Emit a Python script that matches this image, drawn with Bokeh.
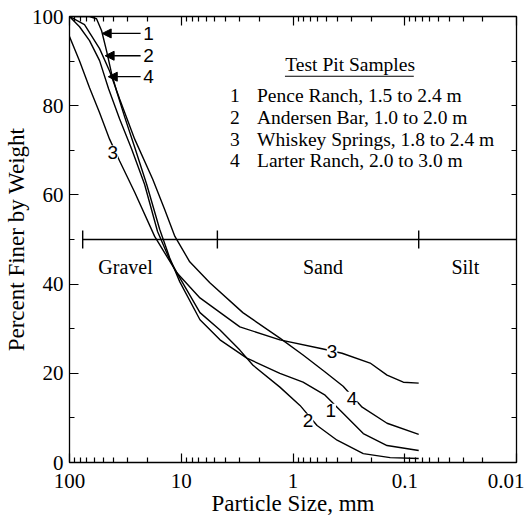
from bokeh.plotting import figure
from bokeh.models import (Range1d, FixedTicker, LinearAxis, LogAxis, Label,
                          Arrow, NormalHead)
from bokeh.embed import file_html
from bokeh.resources import INLINE

# ---------------- data ----------------
# particle size (mm) and percent finer by weight for each test pit sample
size_1 = [100, 66.2, 57.3, 51.6, 46.6, 42.0, 37.9, 32.1, 26.1, 20.4, 15.6, 12.7,
          10.3, 6.8, 4.5, 2.59, 1.31, 0.813, 0.516, 0.379, 0.235, 0.144, 0.075]
pct_1 = [100, 100, 99.5, 96.8, 92.3, 87.2, 83.3, 77.5, 70.7, 62.4, 52.3, 45.9,
         40.5, 32.0, 27.5, 23.4, 20.0, 18.0, 15.1, 11.7, 6.5, 3.8, 2.7]

size_2 = [100, 81.3, 66.2, 53.8, 44.7, 35.6, 27.8, 21.3, 16.3, 12.7, 10.3, 6.8,
          4.5, 2.99, 2.28, 1.31, 0.866, 0.609, 0.403, 0.235, 0.135, 0.075]
pct_2 = [100, 97.7, 94.6, 90.1, 83.8, 77.0, 70.3, 62.4, 51.8, 45.5, 41.4, 33.6,
         29.7, 25.2, 21.8, 16.9, 12.8, 8.3, 5.0, 2.0, 1.1, 0.9]

size_3 = [100, 81.3, 66.2, 53.8, 43.8, 35.6, 26.1, 17.3, 11.0, 6.8, 2.99, 1.31,
          0.55, 0.364, 0.204, 0.144, 0.103, 0.075]
pct_3 = [95.5, 90.0, 84.0, 78.4, 72.5, 67.6, 60.6, 50.7, 42.6, 36.9, 30.4, 27.5,
         25.5, 24.5, 22.3, 19.6, 18.0, 17.8]

size_4 = [100, 73.4, 53.8, 43.8, 35.6, 26.1, 18.0, 14.1, 11.4, 8.4, 5.55, 2.81,
          1.31, 0.813, 0.516, 0.356, 0.2405, 0.144, 0.075]
pct_4 = [100, 98.2, 92.8, 87.8, 81.5, 72.5, 63.5, 56.8, 50.7, 45.0, 40.3, 33.6,
         27.9, 24.1, 20.3, 17.1, 12.4, 8.8, 6.3]

sample_ids = ["1", "2", "3", "4"]
sample_names = ["Pence Ranch, 1.5 to 2.4 m", "Andersen Bar, 1.0 to 2.0 m",
                "Whiskey Springs, 1.8 to 2.4 m", "Larter Ranch, 2.0 to 3.0 m"]

# soil class boundaries (mm) and the level of the class bar (%)
boundary_mm = [76.2, 4.75, 0.075]
boundary_pct = 50
soil_classes = ["Gravel", "Sand", "Silt"]
soil_class_x = [31.5, 0.54, 0.0287]

x_major = [100, 10, 1, 0.1, 0.01]
x_major_labels = ["100", "10", "1", "0.1", "0.01"]
x_minor = [m * d for d in [10, 1, 0.1, 0.01] for m in range(2, 10)]
y_major = [0, 20, 40, 60, 80, 100]
y_minor = [10, 30, 50, 70, 90]

SERIF = "Liberation Serif"
SANS = "Liberation Sans"

p = figure(width=524, height=522, x_axis_type="log",
           x_range=Range1d(100, 0.01), y_range=Range1d(0, 100),
           output_backend="svg", toolbar_location=None,
           min_border_left=69, min_border_right=8, min_border_top=16,
           min_border_bottom=60)
p.xgrid.visible = False
p.ygrid.visible = False
p.outline_line_color = "black"
p.outline_line_width = 1.3
p.background_fill_color = "white"
p.border_fill_color = "white"

xtick = FixedTicker(ticks=x_major, minor_ticks=x_minor)
ytick = FixedTicker(ticks=y_major, minor_ticks=y_minor)


def style_axis(ax, labels=True):
    ax.major_tick_in = 9
    ax.major_tick_out = 0
    ax.minor_tick_in = 5
    ax.minor_tick_out = 0
    ax.major_tick_line_color = "black"
    ax.minor_tick_line_color = "black"
    ax.major_tick_line_width = 1.2
    ax.minor_tick_line_width = 1.2
    ax.axis_line_color = "black"
    ax.major_label_text_font = SERIF
    if labels:
        ax.major_label_text_color = "black"
        ax.major_label_text_font_size = "21px"
    else:
        ax.major_label_text_alpha = 0
        ax.major_label_text_font_size = "2px"
        ax.major_label_standoff = 0
    ax.axis_label_text_font = SERIF
    ax.axis_label_text_font_style = "normal"
    ax.axis_label_text_color = "black"
    ax.axis_label_text_font_size = "23px"


xa = p.xaxis[0]
xa.ticker = xtick
xa.major_label_overrides = {v: s for v, s in zip(x_major, x_major_labels)}
xa.axis_label = "Particle Size, mm"
style_axis(xa)
xa.major_label_standoff = 11
xa.axis_label_standoff = 0

ya = p.yaxis[0]
ya.ticker = ytick
ya.axis_label = "Percent Finer by Weight"
style_axis(ya)
ya.major_label_standoff = 6
ya.axis_label_standoff = 0

top = LogAxis(ticker=xtick)
style_axis(top, labels=False)
p.add_layout(top, "above")
right = LinearAxis(ticker=ytick)
style_axis(right, labels=False)
right.major_tick_in = 5
p.add_layout(right, "right")

# ---------------- curves ----------------
for xs, ys in [(size_1, pct_1), (size_2, pct_2), (size_3, pct_3), (size_4, pct_4)]:
    p.line(xs, ys, line_color="black", line_width=1.4)

# class bar
p.line([boundary_mm[0], 0.01], [boundary_pct, boundary_pct], line_color="black", line_width=1.4)
p.segment(x0=boundary_mm, y0=[boundary_pct - 2] * 3, x1=boundary_mm,
          y1=[boundary_pct + 2] * 3, line_color="black", line_width=1.4)
for name, xc in zip(soil_classes, soil_class_x):
    p.add_layout(Label(x=xc, y=43.9, text=name, text_font=SERIF, text_font_size="20px",
                       text_align="center", text_baseline="middle", text_color="black"))

# curve labels (white background breaks the line under them)
curve_labels = [("3", 41.0, 69.6), ("3", 0.447, 24.8), ("4", 0.296, 14.4),
                ("1", 0.46, 11.7), ("2", 0.734, 9.5)]
for t, xc, yc in curve_labels:
    p.add_layout(Label(x=xc, y=yc, text=t, text_font=SANS, text_font_size="19px",
                       text_align="center", text_baseline="middle", text_color="black",
                       background_fill_color="white"))

# arrows at top
arrow_specs = [("1", 96.2, 51.0), ("2", 91.2, 48.0), ("4", 86.5, 45.0)]
for t, yc, xtip in arrow_specs:
    p.add_layout(Arrow(end=NormalHead(size=9, fill_color="black", line_color="black"),
                       x_start=23.1, y_start=yc, x_end=xtip, y_end=yc,
                       line_color="black", line_width=1.3))
    p.add_layout(Label(x=19.6, y=yc, text=t, text_font=SANS, text_font_size="19px",
                       text_align="center", text_baseline="middle", text_color="black"))

# legend block
p.add_layout(Label(x=0.308, y=89.2, text="Test Pit Samples", text_font=SERIF,
                   text_font_size="19.5px", text_align="center", text_baseline="middle",
                   text_color="black"))
p.line([1.18, 0.083], [86.6, 86.6], line_color="black", line_width=1.0)
legend_y = [82.2, 77.4, 72.5, 67.8]
for sid, nm, yy in zip(sample_ids, sample_names, legend_y):
    p.add_layout(Label(x=3.31, y=yy, text=sid, text_font=SERIF, text_font_size="19.5px",
                       text_align="center", text_baseline="middle", text_color="black"))
    p.add_layout(Label(x=2.1, y=yy, text=nm, text_font=SERIF, text_font_size="19.5px",
                       text_align="left", text_baseline="middle", text_color="black"))

open("out.html", "w").write(file_html(p, INLINE))
